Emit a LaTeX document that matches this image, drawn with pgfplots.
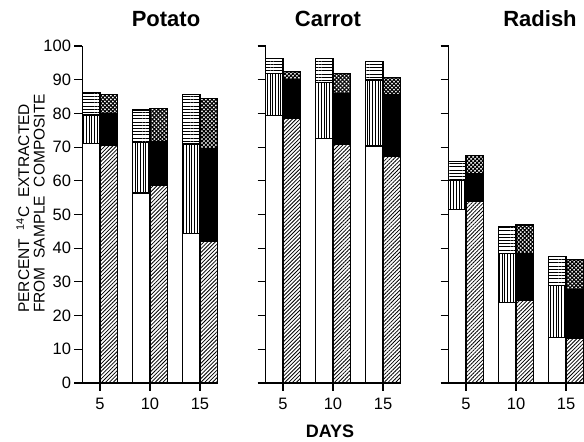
\documentclass[border=0pt]{standalone}
\usepackage{pgfplots}
\usepackage{pgfplotstable}
\pgfplotsset{compat=1.18}
\usetikzlibrary{patterns.meta}
\usepackage{fontspec}
\setmainfont{Liberation Sans}

% x: left bar centre (day-0.875) and right bar centre (day+0.875)
\pgfplotstableread{
x      white vert horiz diag blk  cross
4.125  71.0  8.5  6.8   0    0    0
5.875  0     0    0     70.4 9.6  5.5
9.125  56.4  14.9 9.7   0    0    0
10.875 0     0    0     58.5 13.1 9.9
14.125 44.4  26.5 14.8  0    0    0
15.875 0     0    0     41.9 27.7 14.9
}\potato
\pgfplotstableread{
x      white vert horiz diag blk  cross
4.125  79.3  12.5 4.4   0    0    0
5.875  0     0    0     78.4 11.5 2.5
9.125  72.5  16.7 7.0   0    0    0
10.875 0     0    0     70.9 15.1 5.8
14.125 70.3  19.6 5.6   0    0    0
15.875 0     0    0     67.2 18.5 4.9
}\carrot
\pgfplotstableread{
x      white vert horiz diag blk  cross
4.125  51.5  8.5  5.7   0    0    0
5.875  0     0    0     53.8 8.4  5.2
9.125  24.0  14.5 7.9   0    0    0
10.875 0     0    0     24.6 13.9 8.4
14.125 13.5  15.4 8.6   0    0    0
15.875 0     0    0     13.3 14.5 8.9
}\radish

\pgfplotsset{
  panel/.style={
    width=135pt, height=337pt, scale only axis, anchor=south west,
    xmin=3.25, xmax=16.75, ymin=0, ymax=100,
    axis x line=bottom, axis y line=left,
    axis line style={-, line width=1.3pt, black},
    xtick={5,10,15}, ytick={0,10,...,100},
    tick style={black, line width=1.1pt},
    major tick length=8pt, tick align=outside,
    ybar stacked, bar width=1.75,
    every axis plot/.append style={draw=black, line width=1.2pt},
    tick label style={font=\fontsize{16.5}{16.5}\selectfont},
    xticklabel style={anchor=north, yshift=-3pt, text height=12pt, text depth=0pt},
    /pgf/number format/assume math mode=true,
    clip=false,
  },
  pwhite/.style={fill=white},
  pvert/.style={pattern={Lines[angle=90,distance=2.7pt,line width=0.85pt]}},
  phoriz/.style={pattern={Lines[angle=0,distance=3.2pt,line width=0.9pt]}},
  pdiag/.style={pattern={Lines[angle=45,distance=2.7pt,line width=0.8pt]}},
  pblk/.style={fill=black},
  pcross/.style={pattern={Hatch[angle=45,distance=2.8pt,line width=1.1pt]}},
}

\newcommand{\bars}[1]{%
  \addplot[pwhite] table[x=x,y=white]{#1};
  \addplot[pvert]  table[x=x,y=vert]{#1};
  \addplot[phoriz] table[x=x,y=horiz]{#1};
  \addplot[pdiag]  table[x=x,y=diag]{#1};
  \addplot[pblk]   table[x=x,y=blk]{#1};
  \addplot[pcross] table[x=x,y=cross]{#1};
}

\begin{document}
\begin{tikzpicture}
\begin{axis}[panel, at={(82.5pt,59pt)}]
\bars{\potato}
\end{axis}
\begin{axis}[panel, at={(265.5pt,59pt)}, yticklabels={}]
\bars{\carrot}
\end{axis}
\begin{axis}[panel, at={(448.5pt,59pt)}, yticklabels={}]
\bars{\radish}
\end{axis}
\node[anchor=base, font=\fontsize{22}{22}\selectfont\bfseries] at (166pt,415pt) {Potato};
\node[anchor=base, font=\fontsize{22}{22}\selectfont\bfseries] at (328pt,415pt) {Carrot};
\node[anchor=base, font=\fontsize{22}{22}\selectfont\bfseries] at (540pt,415pt) {Radish};
\node[anchor=base, font=\fontsize{18}{18}\selectfont\bfseries] at (330pt,5pt) {DAYS};
\node[rotate=90, anchor=west, align=left, inner sep=0pt,
      font=\fontsize{15.5}{15.5}\selectfont] at (30.5pt,129pt)
      {PERCENT\ \ \textsuperscript{14}C\ \ EXTRACTED\\FROM\ \ SAMPLE\ \ COMPOSITE};
\pgfresetboundingbox
\path[use as bounding box] (0pt,0pt) rectangle (584pt,442pt);
\end{tikzpicture}
\end{document}
